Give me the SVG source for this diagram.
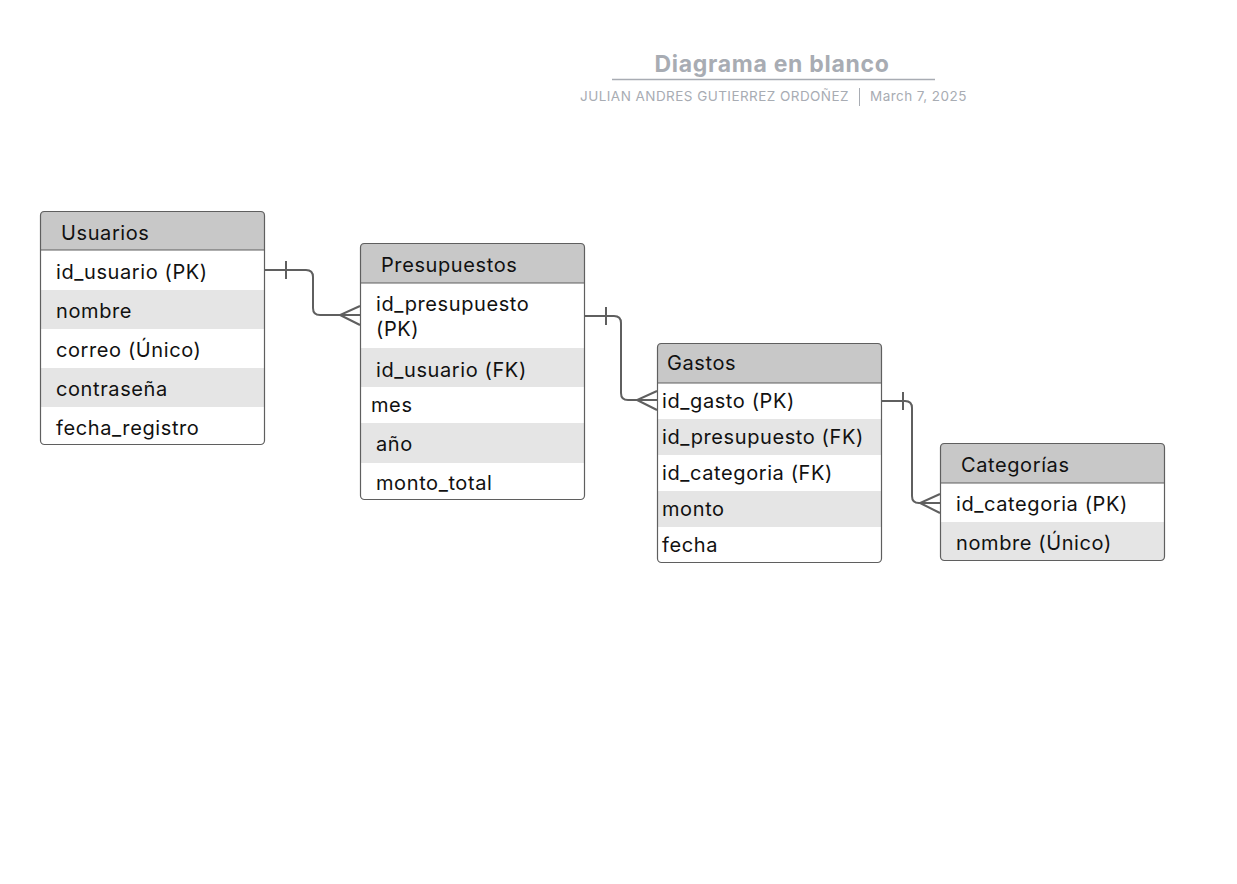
<svg xmlns="http://www.w3.org/2000/svg" width="1237" height="884" viewBox="0 0 1237 884">
<style>
.t{font-family:Inter,"Noto Sans","Liberation Sans",sans-serif;font-size:20px;letter-spacing:0.6px;fill:#111}
.h{font-family:Inter,"Noto Sans","Liberation Sans",sans-serif;font-size:20px;letter-spacing:0.6px;fill:#111}
.hd{fill:#c8c8c8}
.g{fill:#e5e5e5}
.w{fill:#ffffff}
.b{fill:none;stroke:#5f5f5f;stroke-width:1.2}
.c{fill:none;stroke:#5f5f5f;stroke-width:2}
.tt{font-family:Inter,"Noto Sans","Liberation Sans",sans-serif;font-size:23px;letter-spacing:0.7px;font-weight:bold;fill:#a8acb3}
.st{font-family:Inter,"Noto Sans","Liberation Sans",sans-serif;font-size:13.5px;letter-spacing:0.45px;fill:#a8acb3}
</style>
<rect width="1237" height="884" fill="#ffffff"/>
<g id="title">
<text class="tt" x="772" y="72" text-anchor="middle">Diagrama en blanco</text>
<line x1="612" y1="79.5" x2="935" y2="79.5" stroke="#a8acb3" stroke-width="1.5"/>
<text class="st" x="849" y="101" text-anchor="end">JULIAN ANDRES GUTIERREZ ORDOÑEZ</text>
<line x1="859.5" y1="88" x2="859.5" y2="106" stroke="#a8acb3" stroke-width="1"/>
<text class="st" x="870" y="101">March 7, 2025</text>
</g>
<g id="usuarios">
<rect class="w" x="40" y="211" width="225" height="234" rx="4"/>
<path class="hd" d="M44,211 H261 Q265,211 265,215 V250 H40 V215 Q40,211 44,211 Z"/>
<rect class="g" x="40" y="290" width="225" height="39"/>
<rect class="g" x="40" y="368" width="225" height="39"/>
<line x1="40" y1="250" x2="265" y2="250" stroke="#5f5f5f" stroke-width="1"/>
<rect class="b" x="40.5" y="211.5" width="224" height="233" rx="4"/>
<text class="h" x="61" y="240">Usuarios</text>
<text class="t" x="56" y="279">id_usuario (PK)</text>
<text class="t" x="56" y="318">nombre</text>
<text class="t" x="56" y="357">correo (Único)</text>
<text class="t" x="56" y="396">contraseña</text>
<text class="t" x="56" y="435">fecha_registro</text>
</g>
<g id="presupuestos">
<rect class="w" x="360" y="243" width="225" height="257" rx="4"/>
<path class="hd" d="M364,243 H581 Q585,243 585,247 V283 H360 V247 Q360,243 364,243 Z"/>
<rect class="g" x="360" y="348" width="225" height="39"/>
<rect class="g" x="360" y="423" width="225" height="40"/>
<line x1="360" y1="283" x2="585" y2="283" stroke="#5f5f5f" stroke-width="1"/>
<rect class="b" x="360.5" y="243.5" width="224" height="256" rx="4"/>
<text class="h" x="381" y="272">Presupuestos</text>
<text class="t" x="376" y="311">id_presupuesto</text>
<text class="t" x="376" y="336">(PK)</text>
<text class="t" x="376" y="377">id_usuario (FK)</text>
<text class="t" x="371" y="412">mes</text>
<text class="t" x="376" y="451">año</text>
<text class="t" x="376" y="490">monto_total</text>
</g>
<g id="gastos">
<rect class="w" x="657" y="343" width="225" height="220" rx="4"/>
<path class="hd" d="M661,343 H878 Q882,343 882,347 V383 H657 V347 Q657,343 661,343 Z"/>
<rect class="g" x="657" y="419" width="225" height="36"/>
<rect class="g" x="657" y="491" width="225" height="36"/>
<line x1="657" y1="383" x2="882" y2="383" stroke="#5f5f5f" stroke-width="1"/>
<rect class="b" x="657.5" y="343.5" width="224" height="219" rx="4"/>
<text class="h" x="667" y="370">Gastos</text>
<text class="t" x="662" y="408">id_gasto (PK)</text>
<text class="t" x="662" y="444">id_presupuesto (FK)</text>
<text class="t" x="662" y="480">id_categoria (FK)</text>
<text class="t" x="662" y="516">monto</text>
<text class="t" x="662" y="552">fecha</text>
</g>
<g id="categorias">
<rect class="w" x="940" y="443" width="225" height="118" rx="4"/>
<path class="hd" d="M944,443 H1161 Q1165,443 1165,447 V483 H940 V447 Q940,443 944,443 Z"/>
<path class="g" d="M940,522 H1165 V557 Q1165,561 1161,561 H944 Q940,561 940,557 Z"/>
<line x1="940" y1="483" x2="1165" y2="483" stroke="#5f5f5f" stroke-width="1"/>
<rect class="b" x="940.5" y="443.5" width="224" height="117" rx="4"/>
<text class="h" x="961" y="472">Categorías</text>
<text class="t" x="956" y="511">id_categoria (PK)</text>
<text class="t" x="956" y="550">nombre (Único)</text>
</g>
<g id="connectors">
<path class="c" d="M265,270 H306 Q313,270 313,277 V308 Q313,315 320,315 H360"/>
<line class="c" x1="286" y1="261" x2="286" y2="279"/>
<path class="c" d="M360,306 L340,315 L360,325"/>
<path class="c" d="M585,316 H614 Q621,316 621,323 V393 Q621,400 628,400 H657"/>
<line class="c" x1="606" y1="307" x2="606" y2="325"/>
<path class="c" d="M657,391 L637,400 L657,410"/>
<path class="c" d="M882,401 H905 Q912,401 912,408 V496 Q912,503 919,503 H940"/>
<line class="c" x1="903" y1="392" x2="903" y2="410"/>
<path class="c" d="M940,494 L920,503 L940,513"/>
</g>
</svg>
